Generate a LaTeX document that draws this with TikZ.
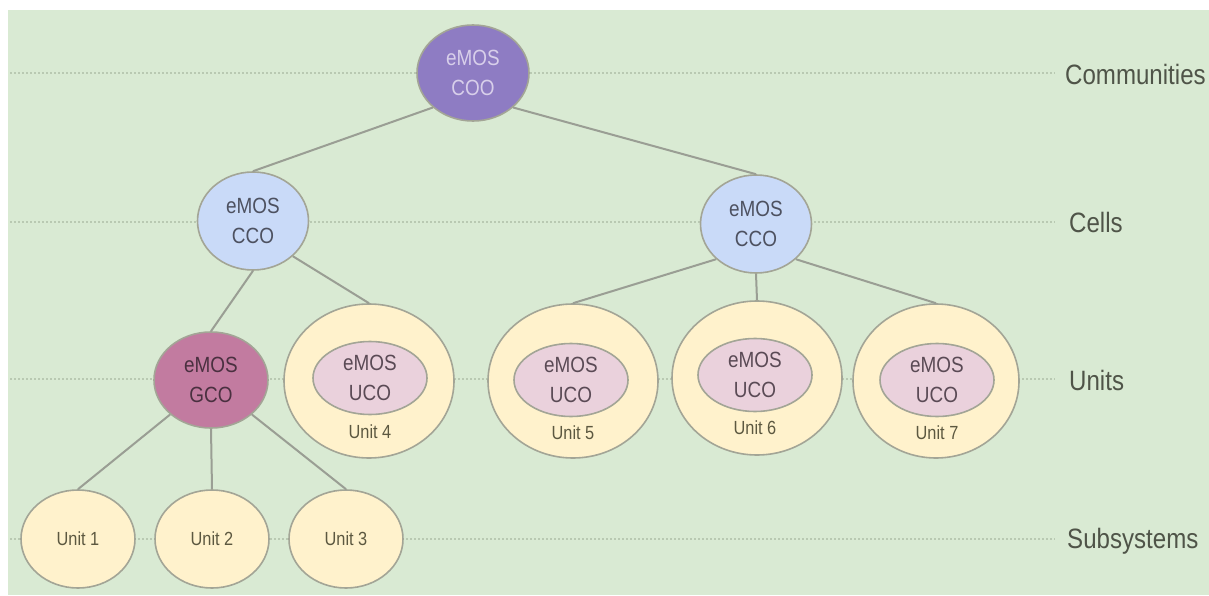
\documentclass[tikz,border=0pt]{standalone}
\usepackage{fontspec}
\setmainfont[FakeStretch=0.86]{Liberation Sans}
\usetikzlibrary{shapes.geometric}
\definecolor{bggreen}{HTML}{D9EAD3}
\definecolor{cooPurple}{HTML}{8E7CC3}
\definecolor{ccoBlue}{HTML}{C9DAF8}
\definecolor{gcoMag}{HTML}{C27BA0}
\definecolor{ucoPink}{HTML}{EAD1DC}
\definecolor{unitYel}{HTML}{FFF2CC}
\definecolor{borderGray}{HTML}{A3A596}
\definecolor{edgeGray}{HTML}{9A9E94}
\definecolor{dotGray}{HTML}{B9C9B2}
\definecolor{cooText}{HTML}{D8CFEA}
\definecolor{darkText}{HTML}{4D5160}
\definecolor{gcoText}{HTML}{4A3040}
\definecolor{ucoText}{HTML}{5A4A55}
\definecolor{unitText}{HTML}{5C5840}
\definecolor{levelText}{HTML}{4F5448}
\tikzset{
  orb/.style={ellipse, draw=borderGray, line width=1.6pt, inner sep=0pt, align=center,
    font=\fontsize{22}{30}\selectfont},
  coonode/.style={orb, fill=cooPurple, text=cooText, minimum width=112pt, minimum height=96pt},
  cconode/.style={orb, fill=ccoBlue, text=darkText, minimum width=111pt, minimum height=98pt},
  gconode/.style={orb, fill=gcoMag, text=gcoText, minimum width=114pt, minimum height=96pt},
  outerunit/.style={orb, fill=unitYel, minimum width=170pt, minimum height=154pt},
  ucanode/.style={orb, fill=ucoPink, text=ucoText, minimum width=114pt, minimum height=73pt},
  subunit/.style={orb, fill=unitYel, text=unitText, minimum width=114pt, minimum height=98pt,
    font=\fontsize{19}{22}\selectfont},
  unitlabel/.style={text=unitText, inner sep=0pt, font=\fontsize{19}{22}\selectfont},
  levellabel/.style={text=levelText, anchor=west, inner sep=0pt, font=\fontsize{28}{32}\selectfont},
  levelline/.style={draw=dotGray, line width=1.6pt, dash pattern=on 2pt off 2pt},
  edge/.style={draw=edgeGray, line width=2pt}
}
\begin{document}
\begin{tikzpicture}[x=1pt,y=-1pt]
\useasboundingbox (0,0) rectangle (1209,596);
\fill[white] (0,0) rectangle (1209,596);
\fill[bggreen] (8,10) rectangle (1209,595);

% level lines
\coordinate (l1a) at (10,73);  \coordinate (l1b) at (1055,73);
\coordinate (l2a) at (10,222); \coordinate (l2b) at (1055,222);
\coordinate (l3a) at (10,379); \coordinate (l3b) at (1055,379);
\coordinate (l4a) at (10,539); \coordinate (l4b) at (1055,539);
\draw[levelline] (l1a) -- (l1b);
\draw[levelline] (l2a) -- (l2b);
\draw[levelline] (l3a) -- (l3b);
\draw[levelline] (l4a) -- (l4b);

\node[levellabel] (lab1) at (1065,74) {Communities};
\node[levellabel] (lab2) at (1069,222) {Cells};
\node[levellabel] (lab3) at (1069,380) {Units};
\node[levellabel] (lab4) at (1067,541) {Subsystems};

% nodes
\node[coonode] (coo) at (473,73) {eMOS\\COO};
\node[cconode] (ccoL) at (253,221) {eMOS\\CCO};
\node[cconode] (ccoR) at (756,224) {eMOS\\CCO};
\node[gconode] (gco) at (211,380) {eMOS\\GCO};

\node[outerunit] (u4) at (369,381) {};
\node[ucanode] (u4i) at (370,378) {eMOS\\UCO};
\node[unitlabel] (u4l) at (370,432) {Unit 4};

\node[outerunit] (u5) at (573,381) {};
\node[ucanode] (u5i) at (571,380) {eMOS\\UCO};
\node[unitlabel] (u5l) at (573,433) {Unit 5};

\node[outerunit] (u6) at (757,378) {};
\node[ucanode] (u6i) at (755,375) {eMOS\\UCO};
\node[unitlabel] (u6l) at (755,428) {Unit 6};

\node[outerunit, minimum width=166pt] (u7) at (936,381) {};
\node[ucanode] (u7i) at (937,380) {eMOS\\UCO};
\node[unitlabel] (u7l) at (937,433) {Unit 7};

\node[subunit] (u1) at (78,539) {Unit 1};
\node[subunit] (u2) at (212,539) {Unit 2};
\node[subunit] (u3) at (346,539) {Unit 3};

% edges
\draw[edge] (coo.south west) -- (ccoL.north);
\draw[edge] (coo.south east) -- (ccoR.north);
\draw[edge] (ccoL.south) -- (gco.north);
\draw[edge] (ccoL.south east) -- (u4.north);
\draw[edge] (ccoR.south west) -- (u5.north);
\draw[edge] (ccoR.south) -- (u6.north);
\draw[edge] (ccoR.south east) -- (u7.north);
\draw[edge] (gco.south west) -- (u1.north);
\draw[edge] (gco.south) -- (u2.north);
\draw[edge] (gco.south east) -- (u3.north);
\end{tikzpicture}
\end{document}
